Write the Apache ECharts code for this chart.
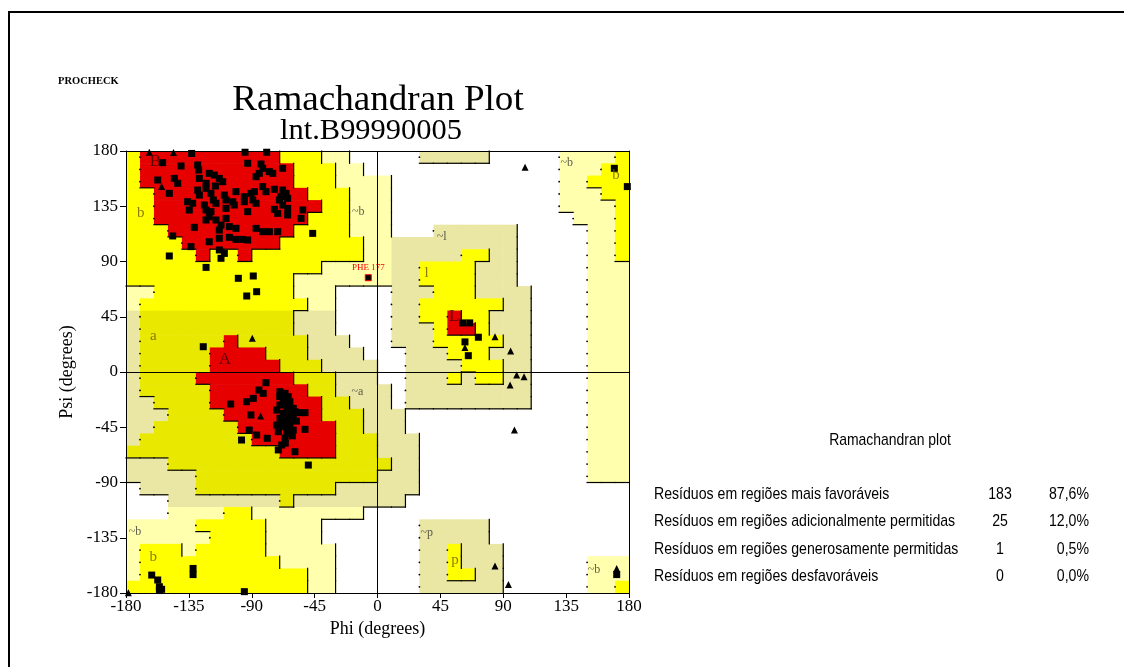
<!DOCTYPE html>
<html>
<head>
<meta charset="utf-8">
<title>Ramachandran Plot</title>
<script src="https://cdn.jsdelivr.net/npm/echarts@6/dist/echarts.min.js"></script>
<style>
  html, body { margin: 0; padding: 0; background: #fff; }
  #chart { width: 1124px; height: 667px; }
</style>
</head>
<body>
<div id="chart"></div>
<script>
// region map, one run-length row per 10 degrees of psi, top row = psi 170..180
// '.' disallowed, p/k generously allowed, y/o additionally allowed, R most favoured
var regionRuns = [
  'y1 R10 y3 p2 .5 k5 .5 p4 y1',
  'y1 R11 y3 p2 .14 p3 y2',
  'y1 R11 y3 p4 .12 p2 y3',
  'y2 R11 y3 p3 .12 p3 y2',
  'y2 R12 y2 p3 .12 p4 y1',
  'y2 R11 y3 p3 .13 p3 y1',
  'y3 R9 y4 p3 .3 k6 .5 p2 y1',
  'y4 R7 y6 p2 k9 .5 p2 y1',
  'y5 R1 y2 R1 y8 p2 k5 y2 k2 .5 p2 y1',
  'y14 p5 k2 y4 k3 .5 p3',
  'y12 p7 k2 y4 k3 .5 p3',
  'p2 y10 p3 .4 k3 y3 k4 .4 p3',
  'p1 y12 p2 .4 k2 y6 k2 .4 p3',
  'k1 o11 k3 .4 k2 y2 R1 y2 k3 .4 p3',
  'k1 o11 k3 .4 k3 y1 R2 y1 k3 .4 p3',
  'k1 o6 R1 o5 k3 .3 k3 y5 k2 .4 p3',
  'k1 o5 R4 o3 k4 .3 k3 y3 k3 .4 p3',
  'k1 o5 R5 o3 k4 .2 k4 y3 k2 .4 p3',
  'k1 o4 R7 o3 k3 .2 k3 y1 k1 y2 k2 .4 p3',
  'k1 o5 R7 o2 k4 .1 k9 .4 p3',
  'k2 o4 R8 o2 k3 .1 k9 .4 p3',
  'k3 o4 R7 o3 k3 .13 p3',
  'k2 o6 R7 o2 k3 .13 p3',
  'k1 o8 R6 o3 k3 .12 p3',
  'o11 R4 o3 k3 .12 p3',
  'k3 o16 k2 .12 p3',
  'k5 o13 k3 .12 p3',
  '.1 k4 o10 k6 .15',
  '.3 k8 o1 k8 .16',
  '.3 p4 y2 p8 .19',
  'p5 y5 p4 .7 k5 .10',
  'p6 y4 p4 .7 k5 .10',
  'p1 y3 p1 y5 p5 .6 k2 y1 k3 .9',
  'p1 y10 p4 .6 k2 y1 k3 .6 p3',
  'p1 y12 p2 .6 k2 y2 k2 .6 p3',
  'y13 p2 .6 k6 .6 p2 y1'
];
var regionColors = { p: '#FFFFAD', k: '#EAE7A4', y: '#FFFF00', o: '#E8E800', R: '#E60000' };
var regionLevel = { '.': 0, p: 1, k: 1, y: 2, o: 2, R: 3 };

var axisTicks = [-180, -135, -90, -45, 0, 45, 90, 135, 180];

// non-glycine residues [phi, psi]
var residues = [
  [-153.8, 170.5], [-140.6, 167.8], [-128.7, 168.6], [-128, 164.5], [-120.4, 161.8], [-116.8, 160.4],
  [-113.2, 157.7], [-92.9, 170], [-83.4, 169.4], [-82.2, 165.9], [-84.6, 161.8], [-86.9, 159.1],
  [-77.4, 163.2], [-75, 161.8], [-67.9, 165.9], [-157.3, 156.4], [-145.4, 157.7], [-143, 153.7],
  [-127.5, 157.7], [-122.7, 153.7], [-116, 151.5], [-110.8, 155], [-149, 145.5], [-128.7, 148.2],
  [-127.5, 144.1], [-122.7, 149.6], [-119.2, 145.5], [-117.5, 140.1], [-115.6, 137.4], [-109.6, 144.1],
  [-101.3, 146.9], [-95.3, 142.8], [-90.5, 145.5], [-88.1, 146.9], [-82.2, 151], [-79.8, 146.9],
  [-73.8, 148.8], [-67.9, 148.2], [-65.5, 145.5], [-64.3, 141.4], [-69.1, 142.8], [-70.2, 140.1],
  [-67.9, 136], [-64.3, 133.3], [-135.9, 138.7], [-132.3, 137.4], [-134.7, 131.9], [-123.9, 136],
  [-122.7, 131.9], [-119.2, 130.6], [-120.4, 126.5], [-108.4, 140.1], [-103.6, 138.7], [-102.5, 136],
  [-108.4, 133.3], [-95.3, 138.7], [-92.9, 130.6], [-89.3, 140.1], [-86.9, 137.4], [-73.8, 132.5],
  [-71.4, 129.2], [-64.3, 127.9], [-53.5, 132], [-54.7, 125.1], [-122.7, 123.8], [-115.6, 123.8],
  [-112, 119.7], [-108.4, 125.1], [-106, 118.4], [-131.1, 117.8], [-113.2, 115.6], [-101.3, 117],
  [-86.9, 117], [-82.2, 114.3], [-77.4, 114.3], [-71.4, 114.3], [-146.6, 110.8], [-120.4, 106.1],
  [-113.2, 108.9], [-106, 109.7], [-101.3, 108], [-96.5, 108], [-92.9, 107.5], [-133.5, 102.1],
  [-113.2, 99.4], [-109.6, 96.6], [-112, 92.6], [-149, 94.5], [-122.7, 85.2], [-46.4, 112.9],
  [-133, 178], [-94.8, 179], [-79.3, 179], [-99.6, 76.3], [-88.9, 78.2], [-86.5, 65.4], [-93.6, 61.9],
  [-124.7, 20.6], [-79.8, -8.7], [-84.9, -14.7], [-81.8, -17.4], [-88.9, -21.5], [-93.7, -24.2],
  [-105.1, -26.1], [-90.6, -35], [-91.8, -47.3], [-86.5, -51.3], [-78.9, -54], [-97.3, -55.4],
  [-69.8, -16], [-66.2, -17.4], [-63.9, -20.1], [-67.4, -22.8], [-62.7, -24.2], [-69.8, -26.9],
  [-65, -28.2], [-60.3, -29.6], [-72.2, -31], [-67.4, -33.7], [-62.7, -35], [-59.1, -32.3],
  [-55.5, -33.1], [-51.9, -33.1], [-69.8, -37.7], [-65, -39.1], [-60.3, -37.7], [-72.2, -43.2],
  [-67.4, -44.5], [-62.7, -43.2], [-71, -48.6], [-65, -50], [-66.2, -54], [-60.3, -47.3],
  [-51.9, -46.7], [-68.6, -59.5], [-71, -63.5], [-59.1, -64.9], [-49.5, -75.8], [-64, -30],
  [-68, -40], [-63, -46], [-66, -58], [-70, -20], [-58, -40], [-61, -52],
  [-132, -160], [-132, -165], [-161.6, -165.4], [-157.3, -169.4], [-156.1, -174.9], [-156.1, -178],
  [-154.5, -177], [-95.3, -178.9],
  [169.5, 165.9], [178.8, 151], [61, 40], [66, 40], [72.2, 28.3], [62.6, 24.5], [65, 13.3], [171.2, -165]
];
// glycines [phi, psi]
var glycines = [
  [-163.3, 179], [-146, 178.8], [-154.5, 151], [-89.6, 27.4], [-83.7, -35.8], [-178.3, -179.8],
  [105.6, 166.7], [84.1, 28.8], [95.3, 17.1], [99.6, -2.4], [104.9, -3.8], [94.9, -10.6], [98, -47.2],
  [84.1, -158], [93.7, -173], [171.2, -160], [62.6, 20]
];
var flagged = [['PHE 177', -6.6, 76.8]];

var regionLabels = [
  ['B', -159, 171.5], ['b', -169.5, 129.2], ['~b', -13.7, 130.5], ['a', -160.5, 29.6], ['A', -109.2, 9.8],
  ['~a', -14.4, -16], ['~b', -173.6, -130], ['b', -160.5, -151], ['~l', 46, 110.2], ['l', 35.2, 80.4],
  ['L', 54.8, 45], ['~b', 135.4, 170], ['b', 170.7, 160.4], ['~p', 35.2, -131.4], ['p', 55.5, -153],
  ['~b', 155, -161.3]
];

var statTitle = 'Ramachandran plot';
var statNames = [
  'Resíduos em regiões mais favoráveis',
  'Resíduos em regiões adicionalmente permitidas',
  'Resíduos em regiões generosamente permitidas',
  'Resíduos em regiões desfavoráveis'
];
var statCounts = ['183', '25', '1', '0'];
var statPercents = ['87,6%', '12,0%', '0,5%', '0,0%'];

// expand run-length rows
var regionGrid = regionRuns.map(function (row) {
  return row.split(' ').map(function (run) {
    return new Array(parseInt(run.slice(1), 10) + 1).join(run[0]);
  }).join('');
});

var cells = [];
regionGrid.forEach(function (row, r) {
  for (var c = 0; c < 36; c++) {
    if (row[c] && row[c] !== '.') cells.push([-180 + 10 * c, 170 - 10 * r, r, c]);
  }
});

function level(r, c) {
  return regionLevel[regionGrid[r][c]] || 0;
}

function cellBox(api) {
  var tl = api.coord([api.value(0), api.value(1) + 10]);
  var br = api.coord([api.value(0) + 10, api.value(1)]);
  return { x0: tl[0], y0: tl[1], x1: br[0], y1: br[1] };
}

function renderFill(params, api) {
  var b = cellBox(api);
  var ch = regionGrid[api.value(2)][api.value(3)];
  return {
    type: 'rect',
    shape: { x: b.x0, y: b.y0, width: b.x1 - b.x0 + 0.6, height: b.y1 - b.y0 + 0.6 },
    style: { fill: regionColors[ch] }
  };
}

function renderEdges(params, api) {
  var r = api.value(2), c = api.value(3), lv = level(r, c);
  var b = cellBox(api);
  var kids = [];
  var st = { stroke: '#000', lineWidth: 1.2 };
  if (c < 35 && level(r, c + 1) < lv) {
    kids.push({ type: 'line', shape: { x1: b.x1, y1: b.y0 - 0.6, x2: b.x1, y2: b.y1 + 0.6 }, style: st });
  }
  if (r < 35 && level(r + 1, c) < lv) {
    kids.push({ type: 'line', shape: { x1: b.x0 - 0.6, y1: b.y1, x2: b.x1 + 0.6, y2: b.y1 }, style: st });
  }
  if (c > 0 && level(r, c - 1) < lv) {
    kids.push({ type: 'circle', shape: { cx: b.x0, cy: (b.y0 + b.y1) / 2, r: 0.9 }, style: { fill: '#000' } });
  }
  return { type: 'group', children: kids };
}

var serif = "'Liberation Serif', 'Times New Roman', serif";
var sans = "'Liberation Sans', Arial, sans-serif";

function txt(x, y, text, font, align, sx) {
  return {
    type: 'text', x: x, y: y, scaleX: sx || 1,
    style: { text: text, font: font, fill: '#000', align: align, verticalAlign: 'middle' }
  };
}

var graphics = [
  { type: 'rect', shape: { x: 9, y: 12, width: 1200, height: 700 }, style: { fill: 'none', stroke: '#000', lineWidth: 2 } },
  txt(58, 81, 'PROCHECK', 'bold 10px ' + serif, 'left', 1.05),
  txt(378, 101, 'Ramachandran Plot', '36px ' + serif, 'center', 1.03),
  txt(371, 131, 'lnt.B99990005', '29px ' + serif, 'center', 1.05),
  txt(890, 440, statTitle, '17px ' + sans, 'center', 0.82)
];
var rowY = [494, 521.5, 549, 576.5];
statNames.forEach(function (name, i) {
  graphics.push(txt(654, rowY[i], name, '17px ' + sans, 'left', 0.83));
  graphics.push(txt(1000, rowY[i], statCounts[i], '17px ' + sans, 'center', 0.83));
  graphics.push(txt(1089, rowY[i], statPercents[i], '17px ' + sans, 'right', 0.83));
});

var labelData = regionLabels.map(function (d) {
  var t = d[0];
  var big = t === t.toUpperCase() && t[0] !== '~';
  var tilde = t[0] === '~';
  return {
    name: t,
    value: [d[1], d[2]],
    label: {
      fontSize: big ? 17 : (tilde ? 12 : 15),
      color: big ? '#400000' : (tilde ? '#333333' : '#6e5a00')
    }
  };
});

var valueAxisBase = {
  type: 'value', min: -180, max: 180, interval: 45, z: 10,
  splitLine: { show: false }
};

var option = {
  backgroundColor: '#fff',
  animation: false,
  grid: { left: 126, right: 495, top: 151, bottom: 74, containLabel: false },
  graphic: graphics,
  xAxis: [
    Object.assign({}, valueAxisBase, {
      position: 'bottom',
      axisLine: { onZero: false, lineStyle: { color: '#000', width: 1 } },
      axisTick: { show: true, length: 5, customValues: axisTicks, lineStyle: { color: '#000' } },
      axisLabel: { color: '#000', fontFamily: serif, fontSize: 17, margin: 5, customValues: axisTicks },
      name: 'Phi (degrees)', nameLocation: 'middle', nameGap: 26,
      nameTextStyle: { color: '#000', fontFamily: serif, fontSize: 18 }
    }),
    Object.assign({}, valueAxisBase, {
      position: 'top',
      axisLine: { show: true, onZero: false, lineStyle: { color: '#000', width: 1 } },
      axisTick: { show: false }, axisLabel: { show: false }
    })
  ],
  yAxis: [
    Object.assign({}, valueAxisBase, {
      position: 'left',
      axisLine: { onZero: false, lineStyle: { color: '#000', width: 1 } },
      axisTick: { show: true, length: 6, customValues: axisTicks, lineStyle: { color: '#000' } },
      axisLabel: { color: '#000', fontFamily: serif, fontSize: 17, margin: 8, customValues: axisTicks },
      name: 'Psi (degrees)', nameLocation: 'middle', nameGap: 50,
      nameTextStyle: { color: '#000', fontFamily: serif, fontSize: 18 }
    }),
    Object.assign({}, valueAxisBase, {
      position: 'right',
      axisLine: { show: true, onZero: false, lineStyle: { color: '#000', width: 1 } },
      axisTick: { show: false }, axisLabel: { show: false }
    })
  ],
  series: [
    {
      type: 'custom', name: 'regions', silent: true,
      renderItem: renderFill, data: cells, encode: { x: 0, y: 1 }
    },
    {
      type: 'custom', name: 'edges', silent: true,
      renderItem: renderEdges, data: cells, encode: { x: 0, y: 1 }
    },
    {
      type: 'scatter', name: 'residues', symbol: 'rect', symbolSize: 7,
      itemStyle: { color: '#000', opacity: 1 }, data: residues, silent: true,
      markLine: {
        silent: true, symbol: 'none', animation: false, label: { show: false },
        lineStyle: { color: '#000', width: 1, type: 'solid' },
        data: [{ xAxis: 0 }, { yAxis: 0 }]
      }
    },
    {
      type: 'scatter', name: 'glycines', symbol: 'triangle', symbolSize: 7,
      itemStyle: { color: '#000', opacity: 1 }, data: glycines, silent: true
    },
    {
      type: 'scatter', name: 'flagged', symbol: 'rect', symbolSize: 6, silent: true,
      itemStyle: { color: '#000', borderColor: '#ff0000', borderWidth: 1, opacity: 1 },
      data: flagged.map(function (d) { return { name: d[0], value: [d[1], d[2]] }; }),
      label: {
        show: true, position: 'top', distance: 2, formatter: '{b}',
        color: '#ff0000', fontFamily: serif, fontSize: 9
      }
    },
    {
      type: 'scatter', name: 'labels', symbolSize: 0, silent: true,
      itemStyle: { color: 'transparent' },
      data: labelData,
      label: { show: true, position: 'inside', formatter: '{b}', fontFamily: serif }
    }
  ]
};

var chart = echarts.init(document.getElementById('chart'));
chart.setOption(option);
</script>
</body>
</html>
